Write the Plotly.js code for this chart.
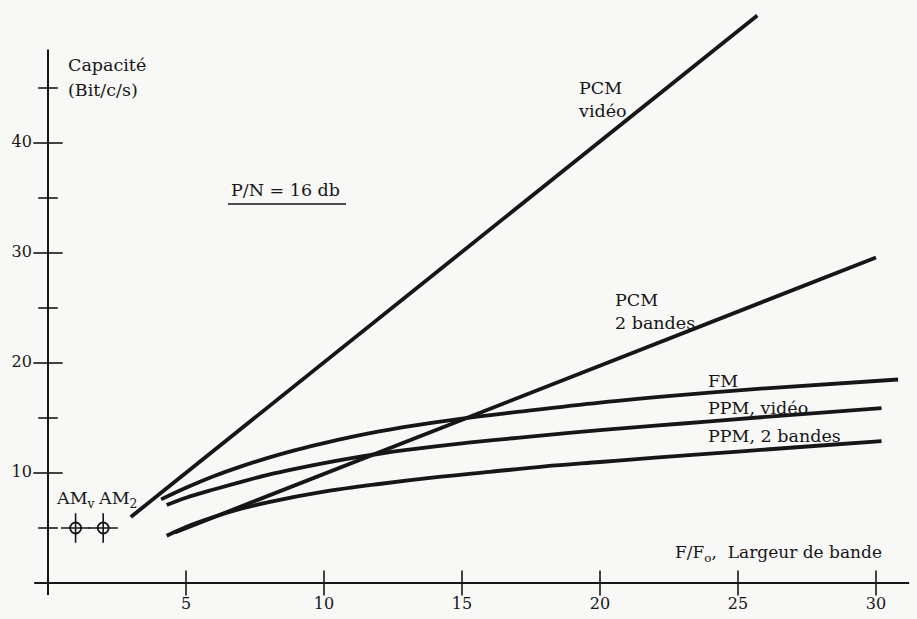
<!DOCTYPE html>
<html><head><meta charset="utf-8">
<script src="https://cdn.plot.ly/plotly-3.0.1.min.js"></script>
<style>html,body{margin:0;padding:0;background:#f8f8f6}</style>
</head><body><div id="chart" style="width:917px;height:619px"></div>
<script>
// ---- data ----
const pcmVideoX = [3.0, 25.7];
const pcmVideoY = [6.0, 51.6];
const pcm2X = [4.6, 30.0];
const pcm2Y = [4.6, 29.6];
const fmX = [4.1, 5, 6, 7, 8, 9, 10, 11, 12, 13, 15, 17, 20, 23, 26, 30.8];
const fmY = [7.6, 8.65, 9.7, 10.6, 11.4, 12.1, 12.72, 13.28, 13.78, 14.22, 14.95, 15.55, 16.4, 17.1, 17.7, 18.5];
const ppmVideoX = [4.3, 5, 6, 7, 8, 9, 10, 11, 12, 13, 15, 17, 20, 23, 26, 30.2];
const ppmVideoY = [7.1, 7.75, 8.5, 9.2, 9.85, 10.4, 10.9, 11.35, 11.75, 12.1, 12.7, 13.2, 13.9, 14.5, 15.1, 15.9];
const ppm2X = [4.3, 5, 6, 7, 8, 10, 12, 14, 16, 18, 20, 22, 25, 28, 30.2];
const ppm2Y = [4.3, 5.1, 6.0, 6.75, 7.35, 8.3, 9.0, 9.6, 10.1, 10.6, 11.0, 11.4, 11.95, 12.5, 12.9];
const amX = [1, 2];
const amY = [5, 5];
const amLabels = ['AM<sub>v</sub>', 'AM<sub>2</sub>'];
const xTicks = [5, 10, 15, 20, 25, 30];
const xTickLabels = ['5', '10', '15', '20', '25', '30'];
const yTicksMajor = [10, 20, 30, 40];
const yTickLabels = ['10', '20', '30', '40'];
const yTicksMinor = [5, 15, 25, 35, 45];
const xAxisSpan = [-0.5, 31.2];
const yAxisSpan = [-1.1, 48.5];

const FONT = 'DejaVu Serif, serif';
const INK = '#161616';
const W = 917, H = 619;
const px = (x) => x / W;
const py = (y) => 1 - y / H;

function curve(x, y, shape) {
  return {x: x, y: y, type: 'scatter', mode: 'lines',
    line: {color: INK, width: 3.8, shape: shape || 'linear', smoothing: 1.0},
    hoverinfo: 'skip', showlegend: false};
}
function mk(symbol, size, w) {
  return {symbol: symbol, size: size, color: INK, line: {color: INK, width: w}};
}

const traces = [
  // axes
  {x: xAxisSpan, y: [0, 0], mode: 'lines', line: {color: INK, width: 2}, showlegend: false, hoverinfo: 'skip'},
  {x: [0, 0], y: yAxisSpan, mode: 'lines', line: {color: INK, width: 2}, showlegend: false, hoverinfo: 'skip'},
  // ticks
  {x: xTicks, y: xTicks.map(() => 0), mode: 'markers', marker: mk('line-ns-open', 18, 1.6), showlegend: false, hoverinfo: 'skip'},
  {x: yTicksMajor.map(() => 0), y: yTicksMajor, mode: 'markers', marker: mk('line-ew-open', 21, 1.6), showlegend: false, hoverinfo: 'skip'},
  {x: yTicksMinor.map(() => 0), y: yTicksMinor, mode: 'markers', marker: mk('line-ew-open', 14, 1.6), showlegend: false, hoverinfo: 'skip'},
  // tick labels
  {x: xTicks, y: xTicks.map(() => -2.0), mode: 'text', text: xTickLabels,
    textfont: {family: FONT, size: 16, color: INK}, showlegend: false, hoverinfo: 'skip'},
  {x: yTicksMajor.map(() => -0.95), y: yTicksMajor, mode: 'text', text: yTickLabels,
    textfont: {family: FONT, size: 16, color: INK}, showlegend: false, hoverinfo: 'skip'},
  // curves
  curve(pcmVideoX, pcmVideoY),
  curve(pcm2X, pcm2Y),
  curve(fmX, fmY, 'spline'),
  curve(ppmVideoX, ppmVideoY, 'spline'),
  curve(ppm2X, ppm2Y, 'spline'),
  // AM points
  {x: amX, y: amY, mode: 'markers', marker: mk('cross-thin-open', 21, 1.6), showlegend: false, hoverinfo: 'skip'},
  {x: amX, y: amY, mode: 'markers', marker: mk('circle-open', 11, 1.8), showlegend: false, hoverinfo: 'skip'}
];

function ann(text, x, y, opts) {
  return Object.assign({text: text, xref: 'paper', yref: 'paper', x: px(x), y: py(y),
    xanchor: 'left', yanchor: 'middle', align: 'left', showarrow: false,
    font: {family: FONT, size: 17.5, color: INK}}, opts || {});
}

const annotations = [
  ann('Capacité', 66, 65),
  ann('(Bit/c/s)', 66, 90),
  ann('PCM<br>vidéo', 576, 99),
  ann('P/N = 16 db', 229, 190),
  ann('PCM<br>2 bandes', 613, 311),
  ann('FM', 706, 381),
  ann('PPM, vidéo', 706, 408),
  ann('PPM, 2 bandes', 706, 436),
  ann(amLabels[0], 54, 500),
  ann(amLabels[1], 96, 500),
  ann('F/F<sub>o</sub>,  Largeur de bande', 673, 553, {font: {family: FONT, size: 17, color: INK}})
];

const layout = {
  width: W, height: H,
  margin: {l: 0, r: 0, t: 0, b: 0},
  paper_bgcolor: '#f8f8f6', plot_bgcolor: '#f8f8f6',
  xaxis: {range: [-48 / 27.6, (W - 48) / 27.6], visible: false, fixedrange: true},
  yaxis: {range: [(583 - H) / 11, 583 / 11], visible: false, fixedrange: true},
  annotations: annotations,
  shapes: [{type: 'line', xref: 'paper', yref: 'paper', x0: px(228), x1: px(346), y0: py(204), y1: py(204),
    line: {color: INK, width: 1.6}}],
  showlegend: false
};

Plotly.newPlot('chart', traces, layout, {displayModeBar: false, staticPlot: true});
</script></body></html>
